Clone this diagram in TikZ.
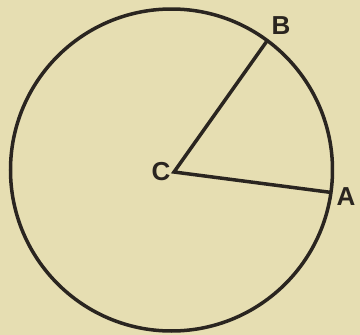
\documentclass[tikz,border=0pt]{standalone}
\usepackage{fontspec}
\setmainfont{Liberation Sans}
\usepackage{xcolor}
\usetikzlibrary{positioning,calc}
\definecolor{PaperBg}{HTML}{E6DEB2}
\definecolor{InkDark}{HTML}{2A2520}

\begin{document}
\begin{tikzpicture}[
  x=1pt,y=-1pt,
  ink/.style={draw=InkDark,line width=3.5pt},
  pt/.style={font=\fontsize{26}{26}\selectfont\bfseries,text=InkDark,inner sep=0pt}
]
\fill[PaperBg] (0,0) rectangle (360,335);
\useasboundingbox (0,0) rectangle (360,335);
\coordinate (ctr) at (171.5,170);
\coordinate (c) at (174,172);
\coordinate (a) at ($(ctr)+(8:161)$);
\coordinate (b) at ($(ctr)+(-53.5:161)$);
\draw[ink] (ctr) circle (161);
\draw[ink,line join=miter] (b) -- (c) -- (a);
\node[pt] (lc) at (161,172) {C};
\node[pt] (la) at (346,197) {A};
\node[pt] (lb) at (281,26) {B};
\end{tikzpicture}
\end{document}
